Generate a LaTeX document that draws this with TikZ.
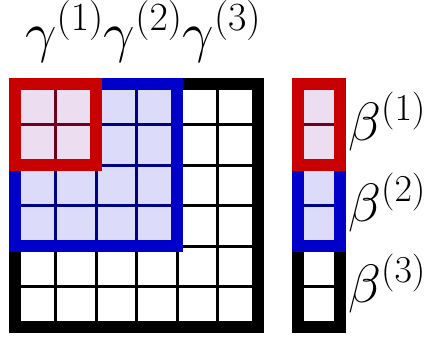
\RequirePackage{fix-cm}
\documentclass[tikz,border=0pt]{standalone}
\DeclareMathSizes{54}{54}{38}{30}
\DeclareMathSizes{56}{56}{40}{32}
\definecolor{myred}{RGB}{200,0,0}
\definecolor{myblue}{RGB}{0,0,200}
\definecolor{fillblue}{RGB}{220,220,250}
\definecolor{fillred}{RGB}{236,222,240}
\definecolor{linered}{RGB}{110,0,30}
\definecolor{lineblue}{RGB}{0,0,130}
\tikzset{
  thinline/.style={line width=3pt},
  thickline/.style={line width=11.5pt},
  lbl/.style={anchor=base west, inner sep=0pt, font=\fontsize{54}{60}\selectfont},
  toplbl/.style={anchor=base west, inner sep=0pt, font=\fontsize{56}{60}\selectfont}
}
\begin{document}
\begin{tikzpicture}[x=1pt,y=-1pt]
\useasboundingbox[fill=white] (0,0) rectangle (433,338);
\def\s{40.5}
% fills
\fill[fillblue] (15,84) rectangle ({15+4*\s},{84+4*\s});
\fill[fillred] (15,84) rectangle ({15+2*\s},{84+2*\s});
\fill[fillred] (298,84) rectangle (340,{84+2*\s});
\fill[fillblue] (298,{84+2*\s}) rectangle (340,{84+4*\s});
% thin grid lines matrix
\foreach \k in {1,...,5} {
  \draw[thinline,black] ({15+\k*\s},84) -- ({15+\k*\s},{84+6*\s});
  \draw[thinline,black] (15,{84+\k*\s}) -- ({15+6*\s},{84+\k*\s});
}
\foreach \k in {1,2,3} {
  \draw[thinline,lineblue] ({15+\k*\s},84) -- ({15+\k*\s},{84+4*\s});
  \draw[thinline,lineblue] (15,{84+\k*\s}) -- ({15+4*\s},{84+\k*\s});
}
\draw[thinline,linered] ({15+\s},84) -- ({15+\s},{84+2*\s});
\draw[thinline,linered] (15,{84+\s}) -- ({15+2*\s},{84+\s});
% thin lines vector
\draw[thinline,linered] (298,{84+\s}) -- (340,{84+\s});
\draw[thinline,lineblue] (298,{84+3*\s}) -- (340,{84+3*\s});
\draw[thinline,black] (298,{84+5*\s}) -- (340,{84+5*\s});
% thick borders matrix
\draw[thickline,black] (15,84) rectangle ({15+6*\s},{84+6*\s});
\draw[thickline,myblue] (15,84) rectangle ({15+4*\s},{84+4*\s});
\draw[thickline,myred] (15,84) rectangle ({15+2*\s},{84+2*\s});
% thick borders vector
\draw[thickline,black] (298,84) rectangle (340,{84+6*\s});
\draw[thickline,myblue] (298,{84+2*\s}) rectangle (340,{84+4*\s});
\draw[thickline,myred] (298,84) rectangle (340,{84+2*\s});
% labels
\node[toplbl] (gam) at (25,51) {$\gamma^{(1)}\gamma^{(2)}\gamma^{(3)}$};
\node[lbl] (b1) at (348,140) {$\beta^{(1)}$};
\node[lbl] (b2) at (348,221) {$\beta^{(2)}$};
\node[lbl] (b3) at (348,302) {$\beta^{(3)}$};
\end{tikzpicture}
\end{document}
